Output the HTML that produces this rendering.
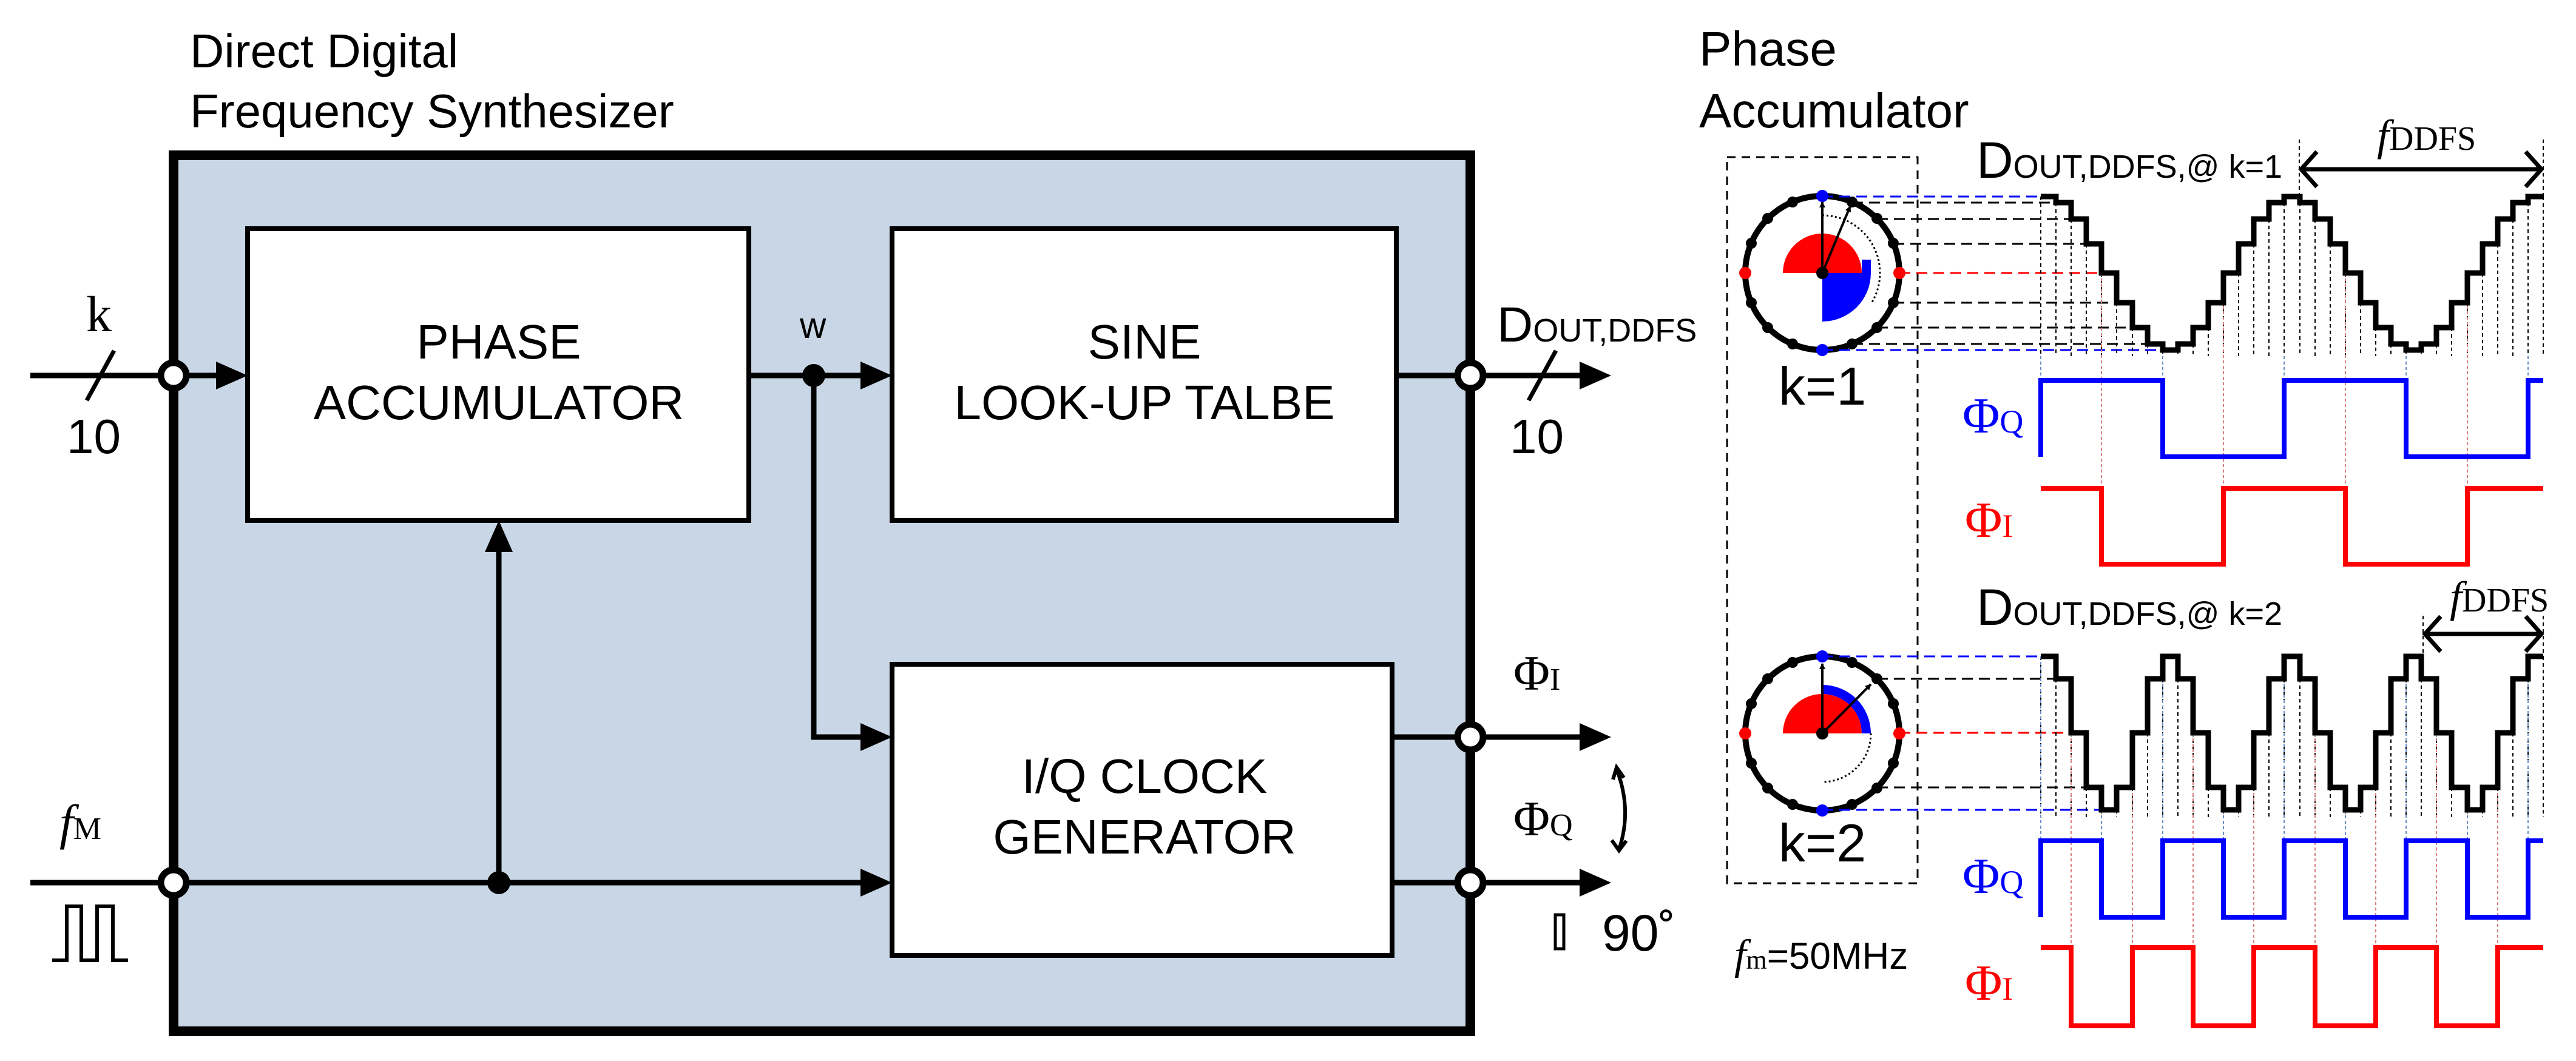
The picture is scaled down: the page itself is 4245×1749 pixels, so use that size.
<!DOCTYPE html>
<html><head><meta charset="utf-8"><style>
html,body{margin:0;padding:0;background:#fff;}
svg{display:block}
.s{font-family:"Liberation Sans",sans-serif;}
.r{font-family:"Liberation Serif",serif;}
</style></head><body>
<svg width="4245" height="1749" viewBox="0 0 4245 1749" xmlns="http://www.w3.org/2000/svg">
<defs>
<marker id="ah" markerWidth="10" markerHeight="10" refX="9" refY="5" orient="auto" markerUnits="userSpaceOnUse" viewBox="0 0 10 10"><path d="M0,0 L10,5 L0,10 Z" fill="#000"/></marker>
</defs>
<text class="s" x="313" y="111" font-size="78">Direct Digital</text>
<text class="s" x="313" y="210" font-size="78">Frequency Synthesizer</text>
<rect x="286" y="256" width="2137" height="1444" fill="#c9d6e5" stroke="#000" stroke-width="16"/>
<rect x="408" y="377" width="826" height="481" fill="#fff" stroke="#000" stroke-width="8"/>
<rect x="1470" y="377" width="831" height="481" fill="#fff" stroke="#000" stroke-width="8"/>
<rect x="1470" y="1095" width="824" height="480" fill="#fff" stroke="#000" stroke-width="8"/>
<g class="s" font-size="80" text-anchor="middle">
<text x="822" y="591">PHASE</text>
<text x="822" y="691">ACCUMULATOR</text>
<text x="1886" y="591">SINE</text>
<text x="1886" y="691">LOOK-UP TALBE</text>
<text x="1886" y="1307">I/Q CLOCK</text>
<text x="1886" y="1407">GENERATOR</text>
</g>
<g stroke="#000" stroke-width="9" fill="none">
<line x1="50" y1="619" x2="360" y2="619"/>
<line x1="1234" y1="619" x2="1422" y2="619"/>
<line x1="2301" y1="619" x2="2607" y2="619"/>
<polyline points="1341,619 1341,1215 1422,1215"/>
<line x1="50" y1="1455" x2="1422" y2="1455"/>
<line x1="822" y1="1455" x2="822" y2="906"/>
<line x1="2294" y1="1215" x2="2607" y2="1215"/>
<line x1="2294" y1="1455" x2="2607" y2="1455"/>
</g>
<g fill="#000">
<polygon points="356,596 408,619 356,642"/>
<polygon points="1418,596 1470,619 1418,642"/>
<polygon points="2603,596 2655,619 2603,642"/>
<polygon points="1418,1192 1470,1215 1418,1238"/>
<polygon points="1418,1432 1470,1455 1418,1478"/>
<polygon points="799,910 822,858 845,910"/>
<polygon points="2603,1192 2655,1215 2603,1238"/>
<polygon points="2603,1432 2655,1455 2603,1478"/>
<circle cx="1341" cy="619" r="19"/>
<circle cx="822" cy="1455" r="19"/>
</g>
<g fill="#fff" stroke="#000" stroke-width="11">
<circle cx="286" cy="619" r="21"/>
<circle cx="286" cy="1455" r="21"/>
<circle cx="2423" cy="619" r="21"/>
<circle cx="2423" cy="1215" r="21"/>
<circle cx="2423" cy="1455" r="21"/>
</g>
<g stroke="#000" stroke-width="7">
<line x1="143" y1="660" x2="188" y2="578"/>
<line x1="2519" y1="660" x2="2564" y2="578"/>
</g>
<text class="r" x="142" y="546" font-size="84">k</text>
<text class="s" x="110" y="747" font-size="80">10</text>
<text class="s" x="2488" y="747" font-size="80">10</text>
<text class="s" x="1318" y="557" font-size="60">w</text>
<text class="s" x="2467" y="563" font-size="82">D<tspan font-size="54">OUT,DDFS</tspan></text>
<text class="r" x="2494" y="1137" font-size="82">Φ<tspan font-size="52">I</tspan></text>
<text class="r" x="2494" y="1377" font-size="82">Φ<tspan font-size="52">Q</tspan></text>
<text class="r" x="98" y="1383" font-size="82" font-style="italic">f<tspan font-size="52" font-style="normal">M</tspan></text>
<path d="M86,1583 H110 V1494 H134 V1583 H160 V1494 H186 V1583 H211" fill="none" stroke="#000" stroke-width="6"/>
<path d="M2664,1268 Q2690,1335 2668,1400" fill="none" stroke="#000" stroke-width="6"/>
<path d="M2658,1285 L2664,1265 L2676,1282" fill="none" stroke="#000" stroke-width="6"/>
<path d="M2656,1385 L2668,1402 L2680,1386" fill="none" stroke="#000" stroke-width="6"/>
<rect x="2563" y="1508" width="14" height="56" fill="none" stroke="#000" stroke-width="5"/>
<text class="s" x="2640" y="1567" font-size="84">90˚</text>

<text class="s" x="2800" y="108" font-size="80">Phase</text>
<text class="s" x="2800" y="210" font-size="80">Accumulator</text>
<rect x="2846" y="259" width="314" height="1197" fill="none" stroke="#000" stroke-width="3" stroke-dasharray="14,10"/>

<path d="M2938,450 A65,65 0 0 1 3068,450 Z" fill="#f00"/>
<path d="M3003,450 H3083 A80,80 0 0 1 3003,530 Z" fill="#00f"/>
<rect x="3068" y="428" width="15" height="22" fill="#00f"/>
<path d="M3003,355 A95,95 0 0 1 3085,498" fill="none" stroke="#000" stroke-width="3" stroke-dasharray="3,4"/>
<ellipse cx="3003" cy="450" rx="127" ry="127" fill="none" stroke="#000" stroke-width="10"/>
<g fill="#000">
<circle cx="3052" cy="333" r="9"/><circle cx="3093" cy="360" r="9"/><circle cx="3120" cy="401" r="9"/>
<circle cx="3120" cy="499" r="9"/><circle cx="3093" cy="540" r="9"/><circle cx="3052" cy="567" r="9"/>
<circle cx="2954" cy="567" r="9"/><circle cx="2913" cy="540" r="9"/><circle cx="2886" cy="499" r="9"/>
<circle cx="2886" cy="401" r="9"/><circle cx="2913" cy="360" r="9"/><circle cx="2954" cy="333" r="9"/>
<circle cx="3003" cy="450" r="10"/>
</g>
<circle cx="3003" cy="323" r="10" fill="#00f"/><circle cx="3003" cy="577" r="10" fill="#00f"/>
<circle cx="2876" cy="450" r="10" fill="#f00"/><circle cx="3130" cy="450" r="10" fill="#f00"/>
<g stroke="#000" stroke-width="4" marker-end="url(#ah)">
<line x1="3003" y1="450" x2="3003" y2="333"/>
<line x1="3003" y1="450" x2="3049" y2="340"/>
</g>
<text class="s" x="3003" y="667" font-size="88" text-anchor="middle">k=1</text>

<g stroke-width="3" stroke-dasharray="18,10" fill="none">
<path stroke="#00f" d="M3003,324 H3363 M3003,577 H3564"/>
<path stroke="#f00" d="M3130,450 H3463"/>
<path stroke="#000" d="M3052,334 H3388 M3093,361 H3413 M3120,402 H3438 M3120,499 H3488 M3093,540 H3514 M3052,567 H3539"/>
</g>
<path stroke="#000" stroke-width="2" stroke-dasharray="6,5" fill="none" d="M3363,324V587M3388,334V587M3413,361V587M3438,402V587M3463,450V587M3488,499V587M3514,540V587M3539,567V587M3564,577V587M3589,577V587M3614,567V587M3639,540V587M3664,499V587M3689,450V587M3714,402V587M3739,361V587M3764,334V587M3790,334V587M3815,361V587M3840,402V587M3865,450V587M3890,499V587M3915,540V587M3940,567V587M3965,577V587M3990,577V587M4015,567V587M4040,540V587M4066,499V587M4091,450V587M4116,402V587M4141,361V587M4166,334V587M4191,324V587"/>
<path stroke="#6a8fc8" stroke-width="2" stroke-dasharray="5,4" fill="none" d="M3363,587V753M3564,587V753M3764,587V753M3965,587V753M4166,587V753"/>
<path stroke="#d98080" stroke-width="2" stroke-dasharray="5,4" fill="none" d="M3463,450V930M3664,450V930M3865,450V930M4066,450V930"/>
<path fill="none" stroke="#000" stroke-width="9" d="M3363,324 H3388 V334 H3413 V361 H3438 V402 H3463 V450 H3488 V499 H3514 V540 H3539 V567 H3564 V577 H3589 V567 H3614 V540 H3639 V499 H3664 V450 H3689 V402 H3714 V361 H3739 V334 H3764 V324 H3790 V334 H3815 V361 H3840 V402 H3865 V450 H3890 V499 H3915 V540 H3940 V567 H3965 V577 H3990 V567 H4015 V540 H4040 V499 H4066 V450 H4091 V402 H4116 V361 H4141 V334 H4166 V324 H4191"/>
<path fill="none" stroke="#00f" stroke-width="8" d="M3363,753 V627 H3564 V753 H3764 V627 H3965 V753 H4166 V627 H4191"/>
<path fill="none" stroke="#f00" stroke-width="8" d="M3363,805 H3463 V930 H3664 V805 H3865 V930 H4066 V805 H4191"/>
<text class="s" x="3257" y="293" font-size="84">D<tspan font-size="54">OUT,DDFS,@ k=1</tspan></text>
<path stroke="#000" stroke-width="2" stroke-dasharray="6,5" d="M3789,230V324M4191,230V324"/>
<line x1="3792" y1="279" x2="4188" y2="279" stroke="#000" stroke-width="7"/>
<path d="M3818,250 L3792,279 L3818,308 M4162,250 L4188,279 L4162,308" fill="none" stroke="#000" stroke-width="7"/>
<text class="r" x="3917" y="247" font-size="56"><tspan font-style="italic" font-size="72">f</tspan>DDFS</text>
<text class="r" x="3234" y="713" font-size="84" fill="#00f">Φ<tspan font-size="54">Q</tspan></text>
<text class="r" x="3238" y="885" font-size="84" fill="#f00">Φ<tspan font-size="54">I</tspan></text>

<path d="M2938,1209 A65,65 0 0 1 3068,1209 Z" fill="#f00"/>
<path d="M3003,1129 A80,80 0 0 1 3083,1209 H3068 A65,65 0 0 0 3003,1144 Z" fill="#00f"/>
<path d="M3083,1209 A80,80 0 0 1 3003,1289" fill="none" stroke="#000" stroke-width="3" stroke-dasharray="3,4"/>
<ellipse cx="3003" cy="1209" rx="127" ry="127" fill="none" stroke="#000" stroke-width="10"/>
<g fill="#000">
<circle cx="3052" cy="1092" r="9"/><circle cx="3093" cy="1119" r="9"/><circle cx="3120" cy="1160" r="9"/>
<circle cx="3120" cy="1258" r="9"/><circle cx="3093" cy="1299" r="9"/><circle cx="3052" cy="1326" r="9"/>
<circle cx="2954" cy="1326" r="9"/><circle cx="2913" cy="1299" r="9"/><circle cx="2886" cy="1258" r="9"/>
<circle cx="2886" cy="1160" r="9"/><circle cx="2913" cy="1119" r="9"/><circle cx="2954" cy="1092" r="9"/>
<circle cx="3003" cy="1209" r="10"/>
</g>
<circle cx="3003" cy="1082" r="10" fill="#00f"/><circle cx="3003" cy="1336" r="10" fill="#00f"/>
<circle cx="2876" cy="1209" r="10" fill="#f00"/><circle cx="3130" cy="1209" r="10" fill="#f00"/>
<g stroke="#000" stroke-width="4" marker-end="url(#ah)">
<line x1="3003" y1="1209" x2="3003" y2="1094"/>
<line x1="3003" y1="1209" x2="3083" y2="1128"/>
</g>
<text class="s" x="3003" y="1420" font-size="88" text-anchor="middle">k=2</text>
<g stroke-width="3" stroke-dasharray="18,10" fill="none">
<path stroke="#00f" d="M3003,1082 H3363 M3003,1335 H3464"/>
<path stroke="#f00" d="M3130,1208 H3413"/>
<path stroke="#000" d="M3093,1119 H3388 M3093,1298 H3438"/>
</g>
<path stroke="#000" stroke-width="2" stroke-dasharray="6,5" fill="none" d="M3363,1082V1347M3388,1119V1347M3413,1208V1347M3438,1298V1347M3463,1335V1347M3488,1335V1347M3514,1298V1347M3539,1208V1347M3564,1119V1347M3589,1119V1347M3614,1208V1347M3639,1298V1347M3664,1335V1347M3689,1335V1347M3714,1298V1347M3739,1208V1347M3764,1119V1347M3790,1119V1347M3815,1208V1347M3840,1298V1347M3865,1335V1347M3890,1335V1347M3915,1298V1347M3940,1208V1347M3965,1119V1347M3990,1119V1347M4015,1208V1347M4040,1298V1347M4066,1335V1347M4091,1335V1347M4116,1298V1347M4141,1208V1347M4166,1119V1347M4191,1082V1347"/>
<path stroke="#6a8fc8" stroke-width="2" stroke-dasharray="5,4" fill="none" d="M3363,1082V1512M3463,1335V1512M3564,1082V1512M3664,1335V1512M3764,1082V1512M3865,1335V1512M3965,1082V1512M4066,1335V1512M4166,1082V1512"/>
<path stroke="#d98080" stroke-width="2" stroke-dasharray="5,4" fill="none" d="M3413,1208V1691M3514,1208V1691M3614,1208V1691M3714,1208V1691M3815,1208V1691M3915,1208V1691M4015,1208V1691M4116,1208V1691"/>
<path fill="none" stroke="#000" stroke-width="9" d="M3363,1082 H3388 V1119 H3413 V1208 H3438 V1298 H3463 V1335 H3488 V1298 H3514 V1208 H3539 V1119 H3564 V1082 H3589 V1119 H3614 V1208 H3639 V1298 H3664 V1335 H3689 V1298 H3714 V1208 H3739 V1119 H3764 V1082 H3790 V1119 H3815 V1208 H3840 V1298 H3865 V1335 H3890 V1298 H3915 V1208 H3940 V1119 H3965 V1082 H3990 V1119 H4015 V1208 H4040 V1298 H4066 V1335 H4091 V1298 H4116 V1208 H4141 V1119 H4166 V1082 H4191"/>
<path fill="none" stroke="#00f" stroke-width="8" d="M3363,1512 V1386 H3463 V1512 H3564 V1386 H3664 V1512 H3764 V1386 H3865 V1512 H3965 V1386 H4066 V1512 H4166 V1386 H4191"/>
<path fill="none" stroke="#f00" stroke-width="8" d="M3363,1562 H3413 V1691 H3514 V1562 H3614 V1691 H3714 V1562 H3815 V1691 H3915 V1562 H4015 V1691 H4116 V1562 H4191"/>
<text class="s" x="3257" y="1030" font-size="84">D<tspan font-size="54">OUT,DDFS,@ k=2</tspan></text>
<path stroke="#000" stroke-width="2" stroke-dasharray="6,5" d="M3993,1015V1082M4191,1015V1082"/>
<line x1="3996" y1="1045" x2="4188" y2="1045" stroke="#000" stroke-width="7"/>
<path d="M4022,1016 L3996,1045 L4022,1074 M4162,1016 L4188,1045 L4162,1074" fill="none" stroke="#000" stroke-width="7"/>
<text class="r" x="4037" y="1008" font-size="56"><tspan font-style="italic" font-size="72">f</tspan>DDFS</text>
<text class="r" x="3234" y="1472" font-size="84" fill="#00f">Φ<tspan font-size="54">Q</tspan></text>
<text class="r" x="3238" y="1648" font-size="84" fill="#f00">Φ<tspan font-size="54">I</tspan></text>
<text x="2858" y="1597" font-size="62"><tspan class="r" font-style="italic" font-size="70">f</tspan><tspan class="r" font-size="44">m</tspan><tspan class="s">=50MHz</tspan></text>
</svg>
</body></html>
